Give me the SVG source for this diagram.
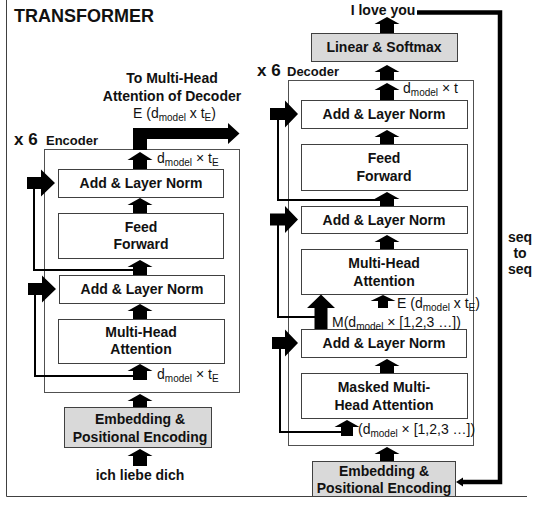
<svg xmlns="http://www.w3.org/2000/svg" width="533" height="507" viewBox="0 0 533 507">
<style>
.frame{fill:none;stroke:#404040;stroke-width:1}
.cont{fill:#fff;stroke:#505050;stroke-width:1}
.box{fill:#fff;stroke:#404040;stroke-width:1}
.gbox{fill:#d9d9d9;stroke:#404040;stroke-width:1}
.t{font-family:"Liberation Sans",Arial,sans-serif;font-weight:bold;font-size:14px;fill:#111;text-anchor:middle}
.h{font-family:"Liberation Sans",Arial,sans-serif;font-weight:bold;fill:#111}
.lab{font-family:"Liberation Sans",Arial,sans-serif;font-size:14px;fill:#111}
.sub{font-size:10px}
.arr{fill:#000}
.res{fill:none;stroke:#000;stroke-width:2}
.loop{fill:none;stroke:#000;stroke-width:4.5}
</style>
<path class="frame" d="M6.5,0 V496.5 H527"/>
<text class="h" x="14" y="22" font-size="18">TRANSFORMER</text>

<g id="encoder">
<rect class="cont" x="44.5" y="149.5" width="195" height="243"/>
<text class="h" x="14" y="145" font-size="17">x 6</text>
<text class="h" x="46" y="145" font-size="13">Encoder</text>
</g>
<g id="decoder">
<rect class="cont" x="288.5" y="80.5" width="185" height="365"/>
<text class="h" x="257" y="76" font-size="17">x 6</text>
<text class="h" x="287" y="76" font-size="13">Decoder</text>
</g>

<g id="enc-addnorm1"><rect class="box" x="58.5" y="169.5" width="165" height="28"/><text class="t" x="141" y="188">Add &amp; Layer Norm</text></g>
<g id="enc-ff"><rect class="box" x="58.5" y="213.5" width="165" height="45"/><text class="t" x="141" y="232">Feed</text><text class="t" x="141" y="249">Forward</text></g>
<g id="enc-addnorm2"><rect class="box" x="59.5" y="275.5" width="165" height="28"/><text class="t" x="142" y="294">Add &amp; Layer Norm</text></g>
<g id="enc-mha"><rect class="box" x="58.5" y="319.5" width="166" height="44"/><text class="t" x="141" y="337">Multi-Head</text><text class="t" x="141" y="354">Attention</text></g>
<g id="enc-embed"><rect class="gbox" x="64.5" y="407.5" width="147" height="40"/><text class="t" x="140" y="424">Embedding &amp;</text><text class="t" x="140" y="442">Positional Encoding</text></g>
<g id="enc-input"><text class="t" x="140" y="480">ich liebe dich</text></g>

<g id="dec-linear"><rect class="gbox" x="311.5" y="33.5" width="146" height="28"/><text class="t" x="384" y="52">Linear &amp; Softmax</text></g>
<g id="dec-output"><text class="t" x="383" y="15">I love you</text></g>
<g id="dec-addnorm1"><rect class="box" x="301.5" y="100.5" width="166" height="28"/><text class="t" x="384" y="119">Add &amp; Layer Norm</text></g>
<g id="dec-ff"><rect class="box" x="301.5" y="144.5" width="166" height="46"/><text class="t" x="384" y="163">Feed</text><text class="t" x="384" y="181">Forward</text></g>
<g id="dec-addnorm2"><rect class="box" x="301.5" y="206.5" width="166" height="27"/><text class="t" x="384" y="225">Add &amp; Layer Norm</text></g>
<g id="dec-mha"><rect class="box" x="301.5" y="249.5" width="166" height="45"/><text class="t" x="384" y="268">Multi-Head</text><text class="t" x="384" y="286">Attention</text></g>
<g id="dec-addnorm3"><rect class="box" x="301.5" y="329.5" width="165" height="28"/><text class="t" x="384" y="348">Add &amp; Layer Norm</text></g>
<g id="dec-masked"><rect class="box" x="301.5" y="373.5" width="166" height="45"/><text class="t" x="384" y="392">Masked Multi-</text><text class="t" x="384" y="410">Head Attention</text></g>
<g id="dec-embed"><rect class="gbox" x="312.5" y="461.5" width="143" height="35"/><text class="t" x="384" y="476">Embedding &amp;</text><text class="t" x="384" y="493">Positional Encoding</text></g>
<g id="seq"><text class="t" x="520" y="242" font-size="13">seq</text><text class="t" x="520" y="258" font-size="13">to</text><text class="t" x="520" y="274" font-size="13">seq</text></g>

<g id="connectors">
<!-- encoder up arrows -->
<polygon class="arr" points="140,152 152.5,160 147,160 147,169 133,169 133,160 127.5,160"/>
<polygon class="arr" points="133,150 133,128 228,128 228,123 239.5,133.5 228,144 228,139 147,139 147,150"/>
<polygon class="arr" points="140,198 152.5,205 147,205 147,213 133,213 133,205 127.5,205"/>
<polygon class="arr" points="140,260 152.5,267 147,267 147,275 133,275 133,267 127.5,267"/>
<polygon class="arr" points="140,304 152.5,311 147,311 147,319 133,319 133,311 127.5,311"/>
<polygon class="arr" points="140,364 152.5,371 147,371 147,380 133,380 133,371 127.5,371"/>
<polygon class="arr" points="140,394 152.5,401 147,401 147,407 133,407 133,401 127.5,401"/>
<polygon class="arr" points="140,449 152.5,456 147,456 147,466 133,466 133,456 127.5,456"/>
<!-- encoder side arrows -->
<polygon class="arr" points="27,177 41,177 41,169.5 55,183 41,196.5 41,189 27,189"/>
<polygon class="arr" points="28,283 42,283 42,275.5 56,289 42,302.5 42,295 28,295"/>
<path class="res" d="M34,183 V270 H134"/>
<path class="res" d="M35,289 V376 H134"/>
<!-- decoder up arrows -->
<polygon class="arr" points="387,17 399.5,24 394,24 394,33 380,33 380,24 374.5,24"/>
<polygon class="arr" points="387,65 399.5,72 394,72 394,80 380,80 380,72 374.5,72"/>
<polygon class="arr" points="387,83 399.5,90 394,90 394,100 380,100 380,90 374.5,90"/>
<polygon class="arr" points="387,130 399.5,137 394,137 394,144 380,144 380,137 374.5,137"/>
<polygon class="arr" points="387,192 399.5,199 394,199 394,206 380,206 380,199 374.5,199"/>
<polygon class="arr" points="387,235 399.5,242 394,242 394,249 380,249 380,242 374.5,242"/>
<polygon class="arr" points="383,295 395.5,301 388,301 388,308 378,308 378,301 370.5,301"/>
<polygon class="arr" points="321,294.5 335,308 327.5,308 327.5,329 314.5,329 314.5,308 307,308"/>
<polygon class="arr" points="387,359 399.5,366 394,366 394,373 380,373 380,366 374.5,366"/>
<polygon class="arr" points="347,420 359.5,427 353,427 353,436 341,436 341,427 334.5,427"/>
<polygon class="arr" points="387,447 399.5,454 394,454 394,461 380,461 380,454 374.5,454"/>
<!-- decoder side arrows -->
<polygon class="arr" points="270,108 285,108 285,100.5 298,114 285,127.5 285,120 270,120"/>
<polygon class="arr" points="270,213.5 285,213.5 285,206 298,219.5 285,233 285,225.5 270,225.5"/>
<polygon class="arr" points="272,337 285,337 285,329.5 298,343 285,356.5 285,349 272,349"/>
<path class="res" d="M278,114 V200 H381"/>
<path class="res" d="M278,219 V317 H315"/>
<path class="res" d="M280,343 V432 H342"/>
<!-- seq to seq loop -->
<path class="loop" d="M417,12.5 H500 V482 H461"/>
<polygon class="arr" points="456,482 463,477.5 463,486.5"/>
</g>

<g id="labels">
<text class="t" x="172" y="83">To Multi-Head</text>
<text class="t" x="172" y="101">Attention of Decoder</text>
<text class="lab" x="133" y="118">E (d<tspan class="sub" dy="3">model</tspan><tspan dy="-3"> x t</tspan><tspan class="sub" dy="3">E</tspan><tspan dy="-3">)</tspan></text>
<text class="lab" x="157" y="163">d<tspan class="sub" dy="3">model</tspan><tspan dy="-3"> × t</tspan><tspan class="sub" dy="3">E</tspan></text>
<text class="lab" x="157" y="379">d<tspan class="sub" dy="3">model</tspan><tspan dy="-3"> × t</tspan><tspan class="sub" dy="3">E</tspan></text>
<text class="lab" x="403" y="93">d<tspan class="sub" dy="3">model</tspan><tspan dy="-3"> × t</tspan></text>
<text class="lab" x="397" y="308">E (d<tspan class="sub" dy="3">model</tspan><tspan dy="-3"> x t</tspan><tspan class="sub" dy="3">E</tspan><tspan dy="-3">)</tspan></text>
<text class="lab" x="332" y="327">M(d<tspan class="sub" dy="3">model</tspan><tspan dy="-3"> × [1,2,3 …])</tspan></text>
<text class="lab" x="358" y="434">(d<tspan class="sub" dy="3">model</tspan><tspan dy="-3"> × [1,2,3 …])</tspan></text>
</g>
</svg>
